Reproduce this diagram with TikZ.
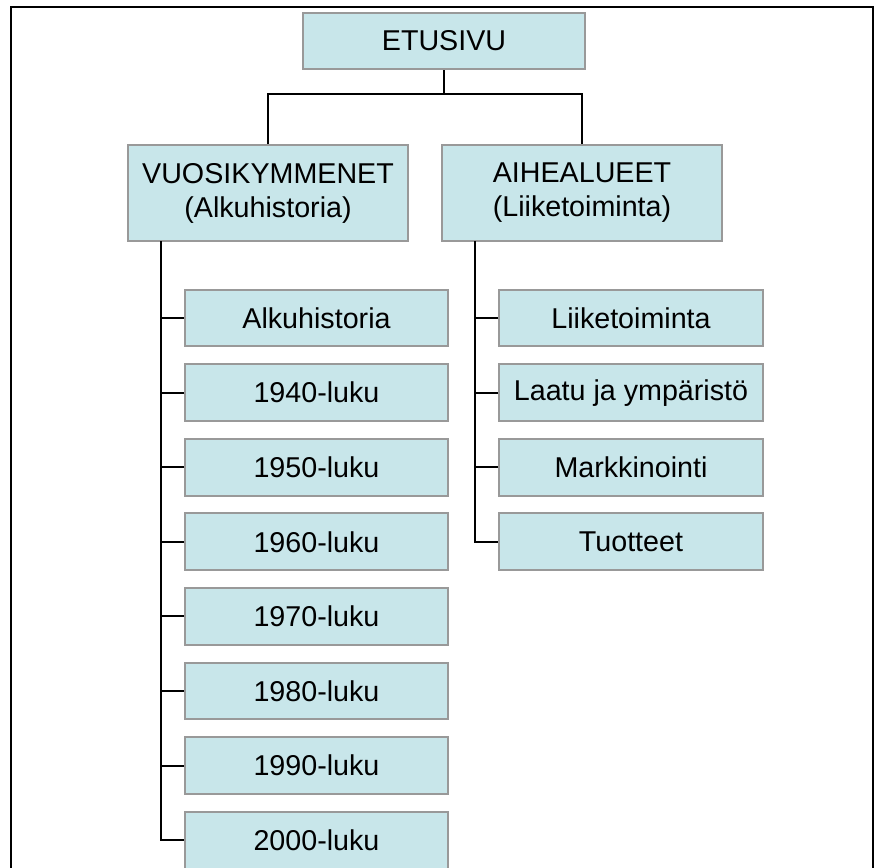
\documentclass[tikz,border=0pt]{standalone}
\usepackage{fontspec}
\setmainfont{Liberation Sans}
\usetikzlibrary{positioning,calc}
\definecolor{boxfill}{HTML}{C8E6EA}
\definecolor{boxline}{HTML}{999999}
\definecolor{ink}{HTML}{000000}

\begin{document}
\begin{tikzpicture}[
  x=.75pt,y=-.75pt,
  font=\fontsize{21.5}{25.5}\selectfont,
  page/.style={fill=boxfill,draw=boxline,line width=1.5pt,align=center,
               inner sep=0pt,minimum width=210pt,minimum height=42.5pt},
  mainpage/.style={page,minimum height=72pt},
  link/.style={draw=ink,line width=1.5pt,line cap=butt}
]
\useasboundingbox (0,0) rectangle (876,868);
\clip (0,0) rectangle (876,868);

% outer frame
\draw[ink,line width=2pt] (11,7) rectangle (873,900);

% top levels
\node[page,minimum width=211pt] (etusivu) at (444,41) {ETUSIVU};
\node[mainpage] (vuosi) at (268,193) {VUOSIKYMMENET\\(Alkuhistoria)};
\node[mainpage] (aihe) at (582,193) {AIHEALUEET\\(Liiketoiminta)};
\coordinate (fork) at (444,94);
\draw[link] (etusivu.south) -- (fork);
\draw[link] (vuosi.north) |- (fork) -| (aihe.north);

% decades
\foreach \txt [count=\i] in {Alkuhistoria,1940-luku,1950-luku,1960-luku,
                             1970-luku,1980-luku,1990-luku,2000-luku}
  \node[page,minimum width=197pt] (d\i) at (316.5,{318+74.6*(\i-1)}) {\txt};
\coordinate (vbus) at (161,241);
\draw[link] (vbus) |- (d8.west);
\foreach \i in {1,...,7}
  \draw[link] (d\i.west) -- (d\i.west -| vbus);

% topics
\foreach \txt [count=\i] in {Liiketoiminta,Laatu ja ympäristö,Markkinointi,Tuotteet}
  \node[page,minimum width=198pt] (t\i) at (631,{318+74.6*(\i-1)}) {\txt};
\coordinate (abus) at (475,241);
\draw[link] (abus) |- (t4.west);
\foreach \i in {1,...,3}
  \draw[link] (t\i.west) -- (t\i.west -| abus);
\end{tikzpicture}
\end{document}
